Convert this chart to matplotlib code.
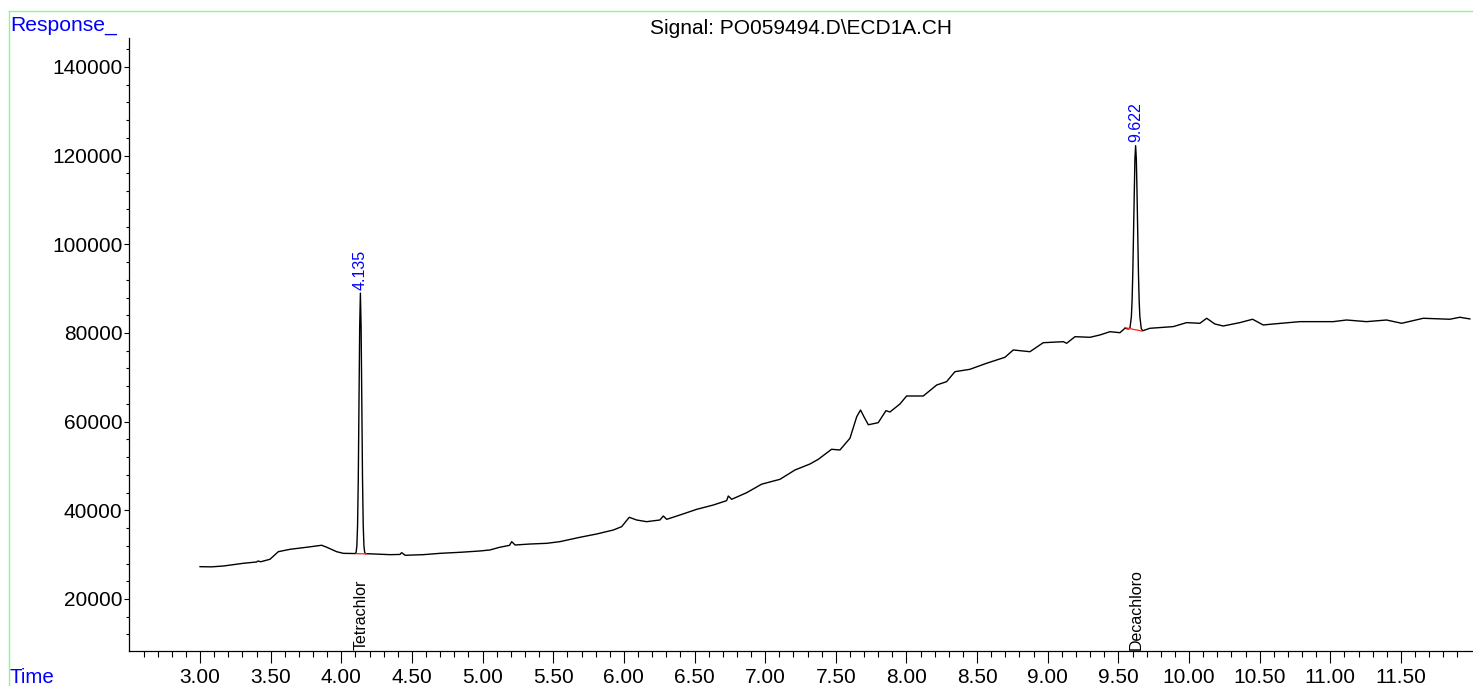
import matplotlib
matplotlib.use("Agg")
import matplotlib.pyplot as plt
from matplotlib.lines import Line2D
import numpy as np

plt.rcParams['font.family'] = ['Liberation Sans', 'DejaVu Sans']

# ---------------- data ----------------
title = "Signal: PO059494.D\\ECD1A.CH"
time_min = [
    3.000, 3.080, 3.165, 3.306, 3.400, 3.410, 3.430, 3.495, 3.554, 3.637,
    3.755, 3.861, 3.897, 3.967, 4.014, 4.100, 4.105, 4.110, 4.115, 4.120,
    4.125, 4.130, 4.135, 4.140, 4.145, 4.150, 4.155, 4.160, 4.165, 4.170,
    4.180, 4.345, 4.415, 4.427, 4.440, 4.451, 4.580, 4.699, 4.850, 4.980,
    5.052, 5.120, 5.190, 5.206, 5.230, 5.335, 5.454, 5.548, 5.689, 5.807,
    5.925, 5.984, 6.038, 6.090, 6.161, 6.255, 6.279, 6.303, 6.397, 6.515,
    6.633, 6.727, 6.739, 6.763, 6.869, 6.975, 7.105, 7.211, 7.317, 7.376,
    7.470, 7.529, 7.600, 7.648, 7.675, 7.699, 7.730, 7.800, 7.855, 7.883,
    7.954, 8.001, 8.119, 8.214, 8.284, 8.343, 8.449, 8.567, 8.697, 8.756,
    8.874, 8.968, 9.110, 9.134, 9.193, 9.299, 9.369, 9.440, 9.511, 9.546,
    9.572, 9.582, 9.592, 9.597, 9.602, 9.607, 9.612, 9.617, 9.622, 9.627,
    9.632, 9.637, 9.642, 9.647, 9.652, 9.662, 9.672, 9.723, 9.888, 9.983,
    10.077, 10.125, 10.183, 10.242, 10.360, 10.450, 10.525, 10.596, 10.785, 11.020,
    11.115, 11.257, 11.398, 11.505, 11.658, 11.846, 11.917, 11.988,
]
response = [
    27290, 27250, 27440, 28050, 28350, 28570, 28400, 28960, 30670, 31210,
    31670, 32120, 31670, 30670, 30300, 30250, 30600, 32000, 36600, 47100,
    64000, 81400, 89000, 81400, 64000, 47100, 36600, 32000, 30600, 30200,
    30220, 30000, 30050, 30450, 30150, 29860, 30000, 30300, 30550, 30830,
    31060, 31660, 32100, 32930, 32180, 32400, 32560, 32940, 33920, 34660,
    35560, 36310, 38430, 37820, 37440, 37820, 38720, 37970, 38950, 40220,
    41200, 42180, 43230, 42490, 43980, 45900, 47000, 49100, 50450, 51510,
    53770, 53610, 56250, 61120, 62630, 61120, 59300, 59770, 62480, 62180,
    63990, 65790, 65790, 68270, 69020, 71270, 71810, 73170, 74520, 76170,
    75780, 77810, 78040, 77680, 79170, 79030, 79550, 80290, 80070, 81060,
    80900, 81150, 83700, 87300, 93500, 102100, 111600, 119300, 122250, 119300,
    111600, 102100, 93500, 87300, 83700, 81000, 80500, 81060, 81440, 82340,
    82190, 83320, 82030, 81580, 82340, 83100, 81810, 82030, 82560, 82560,
    82930, 82560, 82930, 82190, 83320, 83100, 83550, 83170,
]

peak_rt = [4.135, 9.622]
peak_apex = [89000, 122250]
peak_labels = ["4.135", "9.622"]
compound_names = ["Tetrachlor", "Decachloro"]

# integration baselines (start time, start value, end time, end value)
base_t0 = [4.105, 9.546]
base_v0 = [30230, 81210]
base_t1 = [4.178, 9.664]
base_v1 = [30180, 80450]

x_major = [3.0 + 0.5 * i for i in range(18)]
y_major = [20000 * i for i in range(1, 8)]

# ---------------- figure ----------------
W, H = 1473, 686
fig = plt.figure(figsize=(W / 100, H / 100), dpi=100)
ax_left, ax_bottom, ax_top = 129.4, 651.0, 38.0
ax = fig.add_axes([ax_left / W, 1 - ax_bottom / H, 1 - ax_left / W, (ax_bottom - ax_top) / H])

ax.plot(time_min, response, color='black', lw=1.0, solid_joinstyle='round')
for t0, v0, t1, v1 in zip(base_t0, base_v0, base_t1, base_v1):
    ax.plot([t0, t1], [v0, v1], color='#ff2020', lw=0.9)

blue = '#0000ff'
for rt, ap, lab in zip(peak_rt, peak_apex, peak_labels):
    ax.annotate(lab, xy=(rt, ap), xytext=(0, 2.5), textcoords='offset points',
                rotation=90, ha='center', va='bottom', color=blue, fontsize=11.5)

ax.set_xlim(2.5, 12.01)
ax.set_ylim(8270, 146540)

for rt, name in zip(peak_rt, compound_names):
    ax.annotate(name, xy=(rt, 8270), xytext=(0.5, 1), textcoords='offset points',
                rotation=90, ha='center', va='bottom', color='black', fontsize=11.5)

ax.set_xticks(x_major)
ax.set_xticklabels([f"{v:.2f}" for v in x_major])
ax.set_xticks(np.round(np.arange(2.6, 12.0, 0.1), 2), minor=True)
ax.set_yticks(y_major)
ax.set_yticklabels([f"{v:d}" for v in y_major])
ax.set_yticks(np.arange(12000, 146000, 4000), minor=True)

ax.tick_params(axis='x', which='major', length=8.4, width=0.8, labelsize=15, pad=3.5, direction='out')
ax.tick_params(axis='x', which='minor', length=4.1, width=0.8, direction='out')
ax.tick_params(axis='y', which='major', length=3.6, width=0.8, labelsize=15, pad=1.5, direction='out')
ax.tick_params(axis='y', which='minor', length=2.2, width=0.8, direction='out')

for s in ['top', 'right']:
    ax.spines[s].set_visible(False)
for s in ['left', 'bottom']:
    ax.spines[s].set_linewidth(0.9)
    ax.spines[s].set_color('black')

# frame and labels
green = '#80ff80'
fig.add_artist(Line2D([8.5 / W, 8.5 / W], [0, 1 - 11 / H], color=green, lw=1.0))
fig.add_artist(Line2D([8.5 / W, 1], [1 - 11 / H, 1 - 11 / H], color=green, lw=1.0))

fig.text(10 / W, 1 - 30.7 / H, "Response_", color=blue, fontsize=15.2, ha='left', va='baseline')
fig.text(10 / W, 1 - 683 / H, "Time", color=blue, fontsize=14.8, ha='left', va='baseline')
fig.text(801 / W, 1 - 34 / H, title, color='black', fontsize=15, ha='center', va='baseline')

fig.savefig("out.png", dpi=100)
